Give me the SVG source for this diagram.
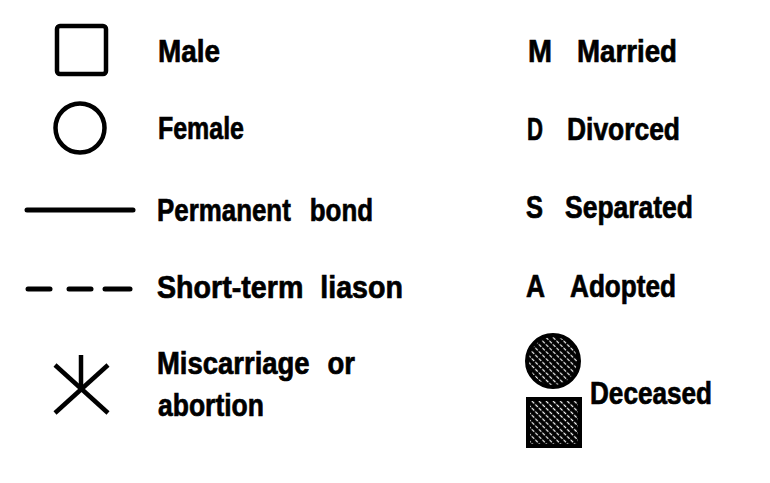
<svg xmlns="http://www.w3.org/2000/svg" width="770" height="483" viewBox="0 0 770 483">
  <style>
    .t { font-family: "Liberation Sans", Arial, sans-serif; font-weight: bold; font-size: 32px; fill: #000; stroke: #000; stroke-width: 0.7; }
    .sym { fill: none; stroke: #000; stroke-width: 4.5; }
    .ln { stroke: #000; stroke-width: 5; stroke-linecap: round; fill: none; }
  </style>
  <defs>
    <pattern id="hatch" width="5" height="5" patternUnits="userSpaceOnUse" patternTransform="rotate(-45)">
      <rect width="5" height="5" fill="#000"/>
      <line x1="2.5" y1="0" x2="2.5" y2="5" stroke="#fff" stroke-width="1.2" stroke-dasharray="3 1.5"/>
    </pattern>
  </defs>
  <rect width="770" height="483" fill="#fff"/>

  <g id="male">
    <rect class="sym" x="57" y="26" width="49" height="48" rx="3"/>
    <text class="t" x="158" y="62" textLength="62" lengthAdjust="spacingAndGlyphs">Male</text>
  </g>
  <g id="female">
    <circle class="sym" cx="80" cy="128" r="24.5"/>
    <text class="t" x="158" y="139" textLength="86" lengthAdjust="spacingAndGlyphs">Female</text>
  </g>
  <g id="connectors">
    <line class="ln" x1="27" y1="210" x2="133" y2="210"/>
    <line class="ln" x1="28" y1="289" x2="50" y2="289"/>
    <line class="ln" x1="69" y1="289" x2="91" y2="289"/>
    <line class="ln" x1="105" y1="289" x2="130" y2="289"/>
  </g>
  <g id="permanent-bond">
    <text class="t" x="157" y="221" word-spacing="14.6" textLength="216" lengthAdjust="spacingAndGlyphs">Permanent bond</text>
  </g>
  <g id="short-term">
    <text class="t" x="157" y="298" word-spacing="10" textLength="246" lengthAdjust="spacingAndGlyphs">Short-term liason</text>
  </g>
  <g id="miscarriage">
    <line class="sym" x1="55" y1="365" x2="108" y2="413"/>
    <line class="sym" x1="108" y1="365" x2="55" y2="413"/>
    <line class="sym" x1="81" y1="355" x2="81" y2="389"/>
    <text class="t" x="157" y="374" word-spacing="12" textLength="198" lengthAdjust="spacingAndGlyphs">Miscarriage or</text>
    <text class="t" x="158" y="416" textLength="106" lengthAdjust="spacingAndGlyphs">abortion</text>
  </g>

  <g id="married">
    <text class="t" x="528" y="62" textLength="24" lengthAdjust="spacingAndGlyphs">M</text>
    <text class="t" x="577" y="62" textLength="100" lengthAdjust="spacingAndGlyphs">Married</text>
  </g>
  <g id="divorced">
    <text class="t" x="527" y="140" textLength="16" lengthAdjust="spacingAndGlyphs">D</text>
    <text class="t" x="567" y="140" textLength="113" lengthAdjust="spacingAndGlyphs">Divorced</text>
  </g>
  <g id="separated">
    <text class="t" x="526" y="218" textLength="17" lengthAdjust="spacingAndGlyphs">S</text>
    <text class="t" x="565" y="218" textLength="128" lengthAdjust="spacingAndGlyphs">Separated</text>
  </g>
  <g id="adopted">
    <text class="t" x="526" y="297" textLength="19" lengthAdjust="spacingAndGlyphs">A</text>
    <text class="t" x="570" y="297" textLength="106" lengthAdjust="spacingAndGlyphs">Adopted</text>
  </g>
  <g id="deceased">
    <circle cx="553" cy="361" r="26" fill="url(#hatch)" stroke="#000" stroke-width="4"/>
    <rect x="528" y="399" width="52" height="47" fill="url(#hatch)" stroke="#000" stroke-width="4"/>
    <text class="t" x="590" y="404" textLength="122" lengthAdjust="spacingAndGlyphs">Deceased</text>
  </g>
</svg>
